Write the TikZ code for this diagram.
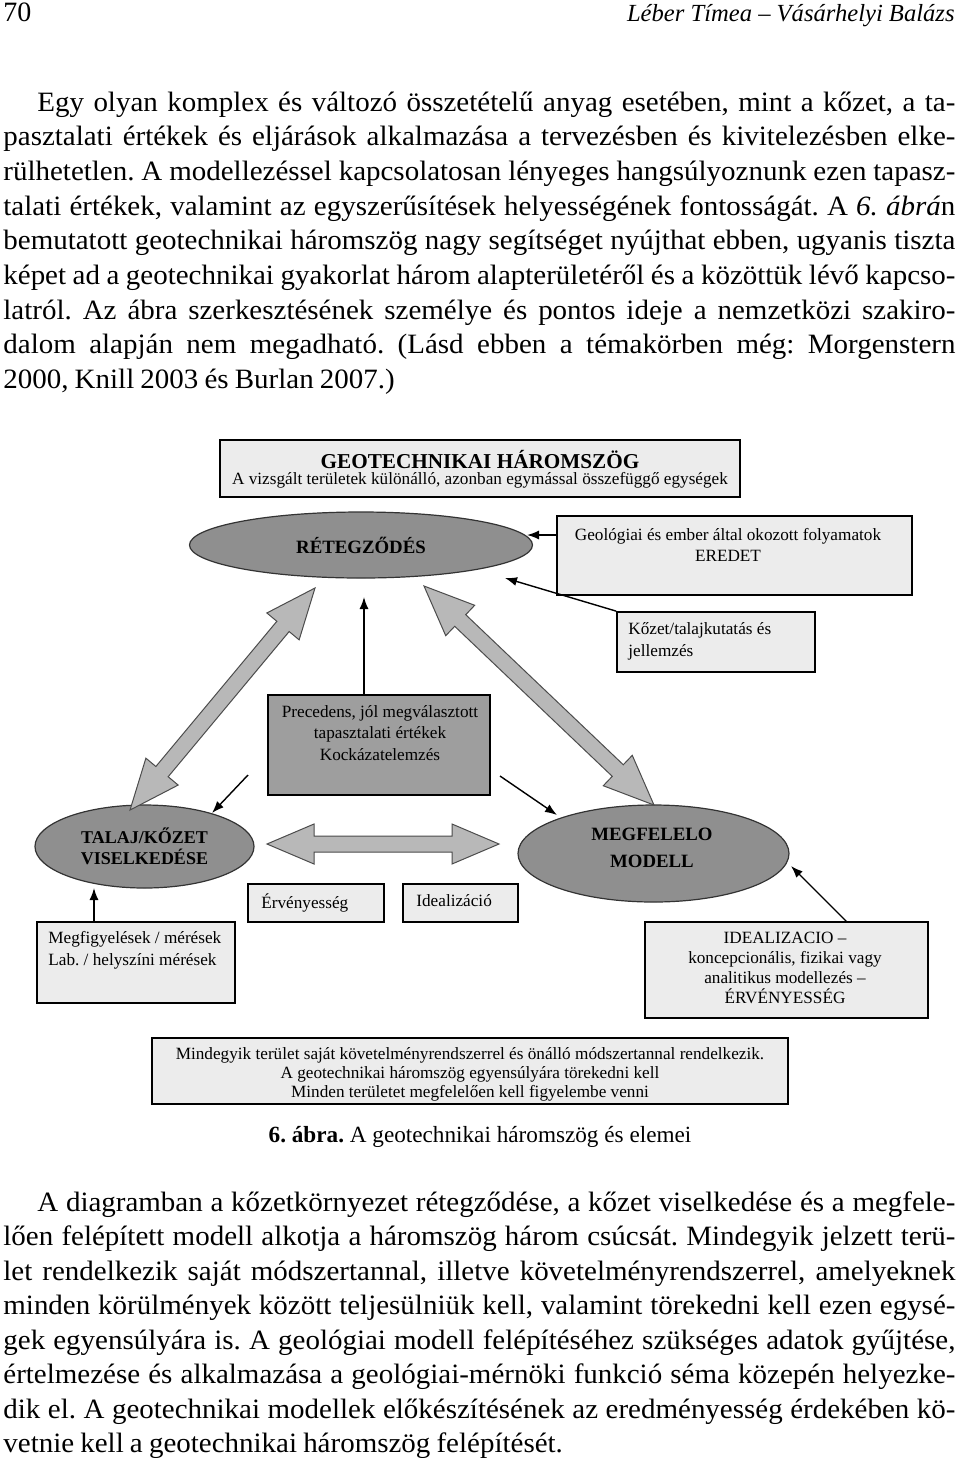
\documentclass[tikz,border=0pt]{standalone}
\usepackage{fontspec}
\setmainfont{Liberation Serif}
\newfontfamily\bodyfont[FakeStretch=1.035,WordSpace={0.85,1.2,1.5}]{Liberation Serif}
\frenchspacing
\usetikzlibrary{shapes.geometric,arrows.meta,calc}
\definecolor{boxgray}{HTML}{ECECEC}
\definecolor{ellgray}{HTML}{8F8F8F}
\definecolor{precgray}{HTML}{9E9E9E}
\definecolor{arrgray}{HTML}{B8B8B8}
\begin{document}
\begin{tikzpicture}[x=0.5pt,y=-0.5pt,
  body/.style={font=\bodyfont\fontsize{14}{16}\selectfont, anchor=base west, inner sep=0pt},
  boxnode/.style={draw=black, line width=0.9pt, fill=boxgray, inner sep=0pt},
  ellnode/.style={ellipse, draw=black!80, line width=0.6pt, fill=ellgray, inner sep=0pt, align=center},
  dtext/.style={font=\fontsize{8.6}{10}\selectfont, inner sep=0pt},
  thinarr/.style={-{Latex[length=6pt,width=4.5pt]}, line width=0.7pt},
  bigarr/.style={fill=arrgray, draw=black!70, line width=0.5pt}]
\useasboundingbox (0,0) rectangle (960,1458);
\fill[white] (0,0) rectangle (960,1458);

% header
\node[font=\fontsize{14}{16}\selectfont, anchor=base west, inner sep=0pt] (pnum) at (3,21) {70};
\node[font=\fontsize{12.3}{14}\selectfont\itshape, anchor=base east, inner sep=0pt] (hdr) at (955,21) {Léber Tímea -- Vásárhelyi Balázs};

% paragraph 1
\node[body] (a1) at (37,111) {\makebox[459pt][s]{Egy olyan komplex és változó összetételű anyag esetében, mint a kőzet, a ta-}};
\node[body] (a2) at (3,145.7) {\makebox[476pt][s]{pasztalati értékek és eljárások alkalmazása a tervezésben és kivitelezésben elke-}};
\node[body] (a3) at (3,180.4) {\makebox[476pt][s]{rülhetetlen. A modellezéssel kapcsolatosan lényeges hangsúlyoznunk ezen tapasz-}};
\node[body] (a4) at (3,215.1) {\makebox[476pt][s]{talati értékek, valamint az egyszerűsítések helyességének fontosságát. A \textit{6. ábrá}n}};
\node[body] (a5) at (3,249.8) {\makebox[476pt][s]{bemutatott geotechnikai háromszög nagy segítséget nyújthat ebben, ugyanis tiszta}};
\node[body] (a6) at (3,284.5) {\makebox[476pt][s]{képet ad a geotechnikai gyakorlat három alapterületéről és a közöttük lévő kapcso-}};
\node[body] (a7) at (3,319.2) {\makebox[476pt][s]{latról. Az ábra szerkesztésének személye és pontos ideje a nemzetközi szakiro-}};
\node[body] (a8) at (3,353.9) {\makebox[476pt][s]{dalom alapján nem megadható. (Lásd ebben a témakörben még: Morgenstern}};
\node[body] (a9) at (3,388.6) {2000, Knill 2003 és Burlan 2007.)};

% ---------------- diagram ----------------
\node[boxnode, minimum width=260pt, minimum height=28.5pt] (title) at (480,468.5) {};
\node[font=\fontsize{10.6}{12}\bfseries, inner sep=0pt] (titlet) at (480,459) {GEOTECHNIKAI HÁROMSZÖG};
\node[dtext] (subt) at (480,480) {A vizsgált területek különálló, azonban egymással összefüggő egységek};

% ellipses
\node[ellnode, minimum width=171.5pt, minimum height=33pt, font=\fontsize{9.4}{11}\bfseries] (ret) at (361,545) {RÉTEGZŐDÉS};
\node[ellnode, minimum width=109.5pt, minimum height=41.5pt, font=\fontsize{9}{10.5}\bfseries] (tal) at (144.5,846.5) {TALAJ/KŐZET\\VISELKEDÉSE};
\node[ellnode, minimum width=135.5pt, minimum height=48.5pt] (meg) at (653.5,853.5) {};
\node[font=\fontsize{9.4}{13.5}\bfseries, align=center, inner sep=0pt] (megt) at (652,847.5) {MEGFELELO\\MODELL};

% boxes
\node[boxnode, minimum width=177.5pt, minimum height=39.5pt] (geo) at (734.5,555.5) {};
\node[dtext, align=center, font=\fontsize{8.6}{10.5}\selectfont] (geot) at (728,544.5) {Geológiai és ember által okozott folyamatok\\EREDET};
\node[boxnode, minimum width=99pt, minimum height=30pt] (koz) at (716,642) {};
\node[dtext, align=left, anchor=west, font=\fontsize{8.6}{11}\selectfont] (kozt) at (628,641) {Kőzet/talajkutatás és\\jellemzés};
\node[boxnode, fill=precgray, minimum width=111pt, minimum height=50pt] (prec) at (379,745) {};
\node[dtext, align=center, font=\fontsize{8.6}{10.6}\selectfont] (prect) at (380,733) {Precedens, jól megválasztott\\tapasztalati értékek\\Kockázatelemzés};
\node[boxnode, minimum width=68pt, minimum height=19pt] (erv) at (316,903) {};
\node[dtext, anchor=west] (ervt) at (261,903) {Érvényesség};
\node[boxnode, minimum width=57.5pt, minimum height=19pt] (ide) at (460.5,903) {};
\node[dtext, anchor=west] (idet) at (416,901) {Idealizáció};
\node[boxnode, minimum width=99pt, minimum height=40.5pt] (mfg) at (136,962.5) {};
\node[dtext, align=left, anchor=west, font=\fontsize{8.6}{11}\selectfont] (mfgt) at (48,950) {Megfigyelések / mérések\\Lab. / helyszíni mérések};
\node[boxnode, minimum width=141.5pt, minimum height=48pt] (idz) at (786.5,970) {};
\node[dtext, align=center, font=\fontsize{8.6}{10}\selectfont] (idzt) at (785,968) {IDEALIZACIO --\\koncepcionális, fizikai vagy\\analitikus modellezés --\\ÉRVÉNYESSÉG};
\node[boxnode, minimum width=318pt, minimum height=33pt] (bot) at (470,1071) {};
\node[dtext, align=center, font=\fontsize{8.6}{9.5}\selectfont] (bott) at (470,1074) {Mindegyik terület saját követelményrendszerrel és önálló módszertannal rendelkezik.\\A geotechnikai háromszög egyensúlyára törekedni kell\\Minden területet megfelelően kell figyelembe venni};

% big double arrows
\begin{scope}[shift={(315,588)}, rotate=230.2]
  \draw[bigarr] (0pt,0pt) -- (25pt,10.5pt) -- (25pt,4pt) -- (119.5pt,4pt) -- (119.5pt,10.5pt) -- (144.5pt,0pt)
    -- (119.5pt,-10.5pt) -- (119.5pt,-4pt) -- (25pt,-4pt) -- (25pt,-10.5pt) -- cycle;
\end{scope}
\begin{scope}[shift={(424,586)}, rotate=-43.6]
  \draw[bigarr] (0pt,0pt) -- (25pt,10.5pt) -- (25pt,4pt) -- (133.8pt,4pt) -- (133.8pt,10.5pt) -- (158.8pt,0pt)
    -- (133.8pt,-10.5pt) -- (133.8pt,-4pt) -- (25pt,-4pt) -- (25pt,-10.5pt) -- cycle;
\end{scope}
\begin{scope}[shift={(267,844)}]
  \draw[bigarr] (0pt,0pt) -- (23.5pt,10pt) -- (23.5pt,4pt) -- (92.5pt,4pt) -- (92.5pt,10pt) -- (116pt,0pt)
    -- (92.5pt,-10pt) -- (92.5pt,-4pt) -- (23.5pt,-4pt) -- (23.5pt,-10pt) -- cycle;
\end{scope}

% thin arrows
\coordinate (g0) at (557,535);
\coordinate (g1) at (527,535);
\draw[thinarr] (g0) -- (g1);
\draw[thinarr] (koz.north west) -- (505,578) coordinate (k1);
\coordinate (p0) at (364,695);
\coordinate (p1) at (364,597);
\draw[thinarr] (p0) -- (p1);
\coordinate (s0) at (248,775);
\coordinate (s1) at (212,813);
\draw[thinarr] (s0) -- (s1);
\coordinate (r0) at (500,776);
\coordinate (r1) at (557,815);
\draw[thinarr] (r0) -- (r1);
\coordinate (m0) at (94,922);
\coordinate (m1) at (94,888);
\draw[thinarr] (m0) -- (m1);
\coordinate (i0) at (847,922);
\coordinate (i1) at (791,866);
\draw[thinarr] (i0) -- (i1);

% caption
\node[font=\fontsize{11.6}{14}\selectfont, anchor=base, inner sep=0pt] (cap) at (480,1142) {\textbf{6. ábra.} A geotechnikai háromszög és elemei};

% paragraph 2
\node[body] (b1) at (37,1211) {\makebox[459pt][s]{A diagramban a kőzetkörnyezet rétegződése, a kőzet viselkedése és a megfele-}};
\node[body] (b2) at (3,1245.5) {\makebox[476pt][s]{lően felépített modell alkotja a háromszög három csúcsát. Mindegyik jelzett terü-}};
\node[body] (b3) at (3,1280) {\makebox[476pt][s]{let rendelkezik saját módszertannal, illetve követelményrendszerrel, amelyeknek}};
\node[body] (b4) at (3,1314.5) {\makebox[476pt][s]{minden körülmények között teljesülniük kell, valamint törekedni kell ezen egysé-}};
\node[body] (b5) at (3,1349) {\makebox[476pt][s]{gek egyensúlyára is. A geológiai modell felépítéséhez szükséges adatok gyűjtése,}};
\node[body] (b6) at (3,1383.5) {\makebox[476pt][s]{értelmezése és alkalmazása a geológiai-mérnöki funkció séma közepén helyezke-}};
\node[body] (b7) at (3,1418) {\makebox[476pt][s]{dik el. A geotechnikai modellek előkészítésének az eredményesség érdekében kö-}};
\node[body] (b8) at (3,1452.5) {vetnie kell a geotechnikai háromszög felépítését.};
\end{tikzpicture}
\end{document}
